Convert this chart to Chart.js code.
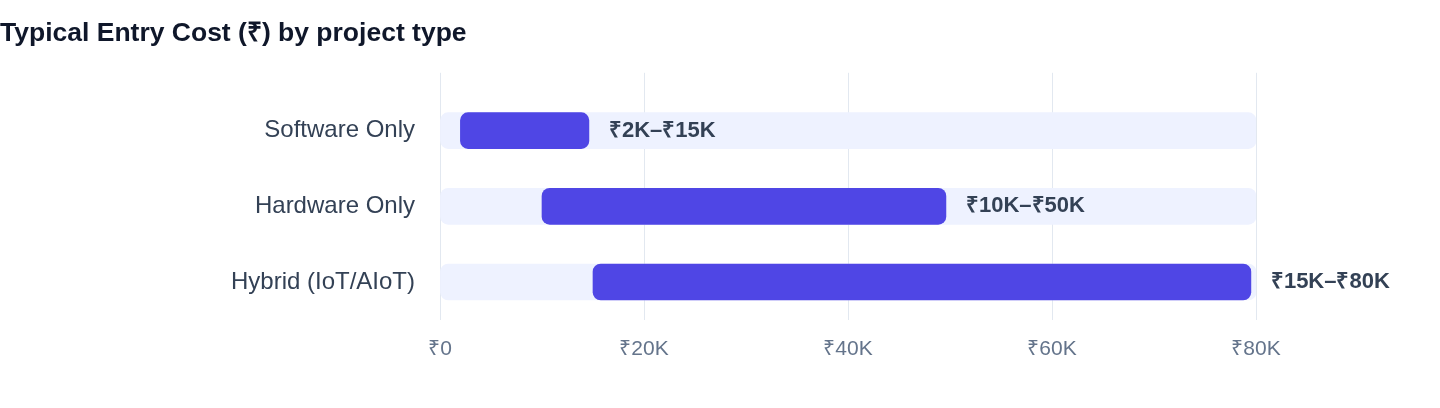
<!DOCTYPE html>
<html>
<head>
<meta charset="utf-8">
<script src="https://cdn.jsdelivr.net/npm/chart.js@4/dist/chart.umd.min.js"></script>
<style>
  html, body { margin: 0; padding: 0; background: #ffffff; }
  #wrap { width: 1440px; height: 408px; }
</style>
</head>
<body>
<div id="wrap"><canvas id="costChart" width="1440" height="408"></canvas></div>
<script>
// categories and cost ranges (₹)
const projectTypes = ['Software Only', 'Hardware Only', 'Hybrid (IoT/AIoT)'];
const rangeLow = [2000, 10000, 15000];
const rangeHigh = [14600, 49600, 79500];
const rangeLabels = ['₹2K–₹15K', '₹10K–₹50K', '₹15K–₹80K'];
const trackMax = 80000;
const tickStep = 20000;

const FONT = '"Liberation Sans", Arial, Helvetica, sans-serif';

function rupeeTick(v) {
  if (v === 0) return '₹0';
  return '₹' + (v / 1000) + 'K';
}

// writes the range text just after the end of each bar
const rangeTextPlugin = {
  id: 'rangeText',
  afterDatasetsDraw(chart) {
    const meta = chart.getDatasetMeta(0);
    const ctx = chart.ctx;
    ctx.save();
    ctx.font = 'bold 22px ' + FONT;
    ctx.fillStyle = '#334155';
    ctx.textAlign = 'left';
    ctx.textBaseline = 'middle';
    meta.data.forEach((bar, i) => {
      ctx.fillText(rangeLabels[i], bar.x + 20, bar.y);
    });
    ctx.restore();
  }
};

new Chart(document.getElementById('costChart').getContext('2d'), {
  type: 'bar',
  data: {
    labels: projectTypes,
    datasets: [
      {
        label: 'Entry cost',
        data: projectTypes.map((_, i) => [rangeLow[i], rangeHigh[i]]),
        backgroundColor: '#4f46e5',
        borderRadius: 8,
        borderSkipped: false,
        barThickness: 36,
        order: 0
      },
      {
        label: 'Track',
        data: projectTypes.map(() => [0, trackMax]),
        backgroundColor: '#eef2ff',
        borderRadius: 8,
        borderSkipped: false,
        barThickness: 36,
        order: 1
      }
    ]
  },
  options: {
    indexAxis: 'y',
    responsive: false,
    animation: false,
    grouped: false,
    layout: { padding: { left: 0, right: 184, top: 0, bottom: 29 } },
    plugins: {
      legend: { display: false },
      tooltip: { enabled: false },
      title: {
        display: true,
        text: 'Typical Entry Cost (₹) by project type',
        align: 'start',
        color: '#0f172a',
        font: { family: FONT, size: 26.5, weight: 'bold' },
        padding: { top: 18, bottom: 23 }
      }
    },
    scales: {
      x: {
        type: 'linear',
        position: 'bottom',
        min: 0,
        max: trackMax,
        border: { display: false },
        grid: { color: '#e2e8f0', drawTicks: false },
        ticks: {
          stepSize: tickStep,
          padding: 17,
          color: '#64748b',
          font: { family: FONT, size: 21 },
          callback: rupeeTick
        }
      },
      xTop: {
        type: 'linear',
        position: 'top',
        min: 0,
        max: trackMax,
        border: { display: false },
        grid: { color: '#e2e8f0', drawOnChartArea: false, drawTicks: true, tickLength: 20 },
        ticks: { stepSize: tickStep, display: false }
      },
      y: {
        border: { display: false },
        grid: { display: false, drawTicks: false },
        ticks: {
          padding: 25,
          color: '#334155',
          font: { family: FONT, size: 24 }
        },
        afterFit(scale) { scale.width = 440; }
      }
    }
  },
  plugins: [rangeTextPlugin]
});
</script>
</body>
</html>
